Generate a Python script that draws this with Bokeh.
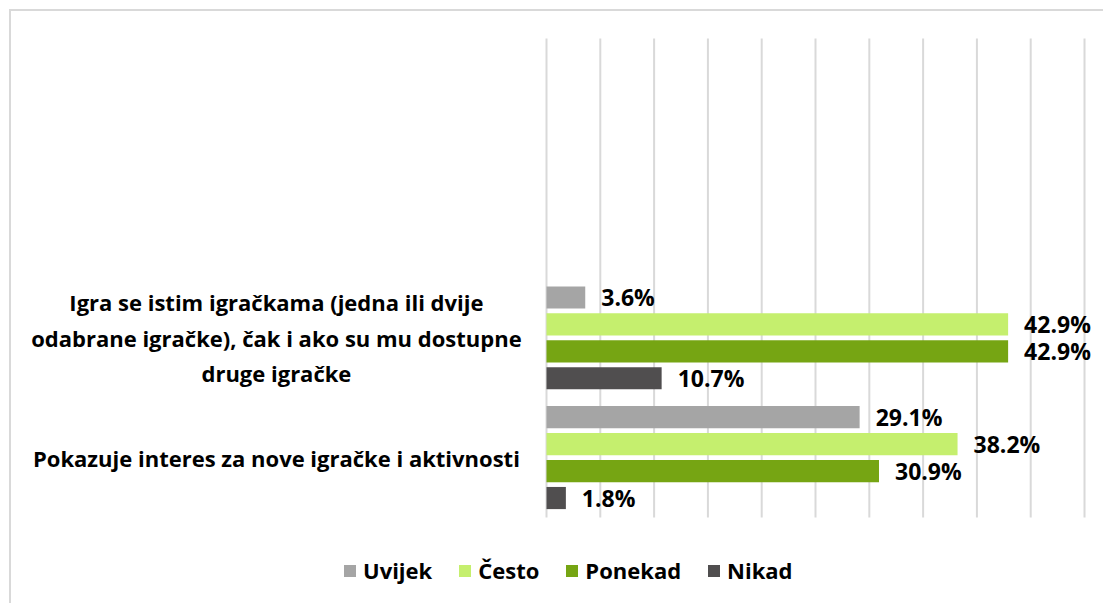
from bokeh.plotting import figure
from bokeh.models import Range1d, Label, ColumnDataSource, Legend, LegendItem
from bokeh.embed import file_html
from bokeh.resources import INLINE
from bokeh.core.properties import value

# ---- data ----
categories = [
    "Pokazuje interes za nove igračke i aktivnosti",
    "Igra se istim igračkama (jedna ili dvije\nodabrane igračke), čak i ako su mu dostupne\ndruge igračke",
]
series = ["Uvijek", "Često", "Ponekad", "Nikad"]
uvijek = [29.1, 3.6]
cesto = [38.2, 42.9]
ponekad = [30.9, 42.9]
nikad = [1.8, 10.7]
colors = ["#A5A5A5", "#C5EF6E", "#76A513", "#504E4F"]
x_ticks = list(range(0, 55, 5))

values = [uvijek, cesto, ponekad, nikad]
n_slots = 4                      # plot area has room for 4 category slots
cat_pos = [0.5 + i for i in range(len(categories))]
offsets = [0.3375, 0.1125, -0.1125, -0.3375]
bar_h = 0.185

FONT = "Open Sans"

# the frame covers the whole canvas so that outside texts are not clipped;
# the value axis runs 0..50 over the plot area, categories 0..4
p = figure(width=1094, height=594, output_backend="svg", toolbar_location=None,
           x_range=Range1d(-49.72, 51.95), y_range=Range1d(-0.735, 4.2255),
           min_border_left=0, min_border_right=0, min_border_top=0,
           min_border_bottom=0, margin=(9, 0, 0, 9))
p.styles = {"border-left": "2px solid #D9D9D9", "border-top": "2px solid #D9D9D9"}
p.outline_line_color = None
p.xaxis.visible = False
p.yaxis.visible = False
p.ygrid.visible = False
p.xgrid.visible = False

# vertical gridlines of the value axis, limited to the plot area
p.segment(x0=x_ticks, x1=x_ticks, y0=[0] * len(x_ticks), y1=[n_slots] * len(x_ticks),
          line_color="#D9D9D9", line_width=2)

items = []
for name, vals, col, off in zip(series, values, colors, offsets):
    src = ColumnDataSource(dict(
        y=[c + off for c in cat_pos],
        v=vals,
        lab=[f"{v:.1f}%" for v in vals],
    ))
    r = p.hbar(y="y", right="v", left=0, height=bar_h, source=src,
               fill_color=col, line_color=None)
    p.text(x="v", y="y", text="lab", source=src, x_offset=16,
           text_baseline="middle", text_align="left",
           text_font=value(FONT), text_font_style="bold",
           text_font_size="23px", text_color="black")
    items.append(LegendItem(label=name, renderers=[r]))

for c, txt in zip(cat_pos, categories):
    p.add_layout(Label(x=-25.1, y=c, text=txt, text_align="center",
                       text_baseline="middle", text_font=FONT,
                       text_font_style="bold", text_font_size="22px",
                       text_line_height=1.18, text_color="black"))

legend = Legend(items=items, orientation="horizontal", location=(331, 20),
                glyph_width=15, glyph_height=15, label_standoff=6, spacing=25,
                label_text_font=FONT, label_text_font_style="bold",
                label_text_font_size="22px", label_text_color="black",
                border_line_color=None, background_fill_alpha=0,
                padding=0, margin=0)
p.add_layout(legend, "center")

open("out.html", "w").write(file_html(p, INLINE))
